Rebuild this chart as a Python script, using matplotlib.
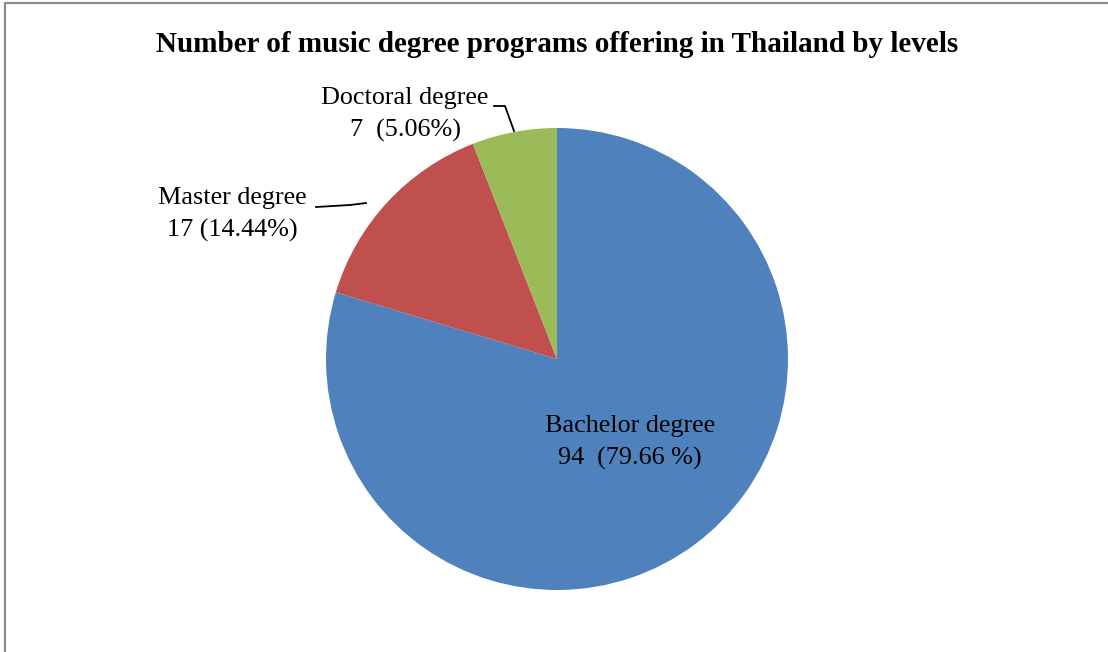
import matplotlib.pyplot as plt
from matplotlib.lines import Line2D

# programme counts per degree level
levels = ["Bachelor degree", "Master degree", "Doctoral degree"]
counts = [94, 17, 7]
pct_text = ["94  (79.66 %)", "17 (14.44%)", "7  (5.06%)"]
colors = ["#4F81BD", "#C0504D", "#9BBB59"]

W, H = 1108, 652
fig = plt.figure(figsize=(W / 100, H / 100), dpi=100)
ax = fig.add_axes([0, 0, 1, 1])

# pie drawn in pixel-like data units (y measured from the bottom)
cx, cy, r = 557, H - 359, 231
ax.pie(counts, colors=colors, startangle=90, counterclock=False,
       center=(cx, cy), radius=r, frame=True,
       wedgeprops=dict(linewidth=0))
ax.set_xlim(0, W)
ax.set_ylim(0, H)
ax.set_aspect("equal")
ax.axis("off")

serif = "Liberation Serif"
ax.text(557, H - 45, "Number of music degree programs offering in Thailand by levels",
        ha="center", va="center", fontsize=21, fontweight="bold", family=serif)

# label positions (x, y of first line)
label_pos = [(630, 426), (232, 198), (405, 98)]
for name, txt, (lx, ly) in zip(levels, pct_text, label_pos):
    ax.text(lx, H - ly, name, ha="center", va="center", fontsize=18.8, family=serif)
    ax.text(lx, H - ly - 32, txt, ha="center", va="center", fontsize=18.8, family=serif)

# leader lines
ax.plot([316, 350, 366], [H - 207, H - 205, H - 203], color="black", lw=1.3)
ax.plot([494, 505, 514], [H - 106, H - 106, H - 131], color="black", lw=1.3)

# chart area border (left and top edges)
fig.add_artist(Line2D([5 / W, 5 / W, 1.0], [0.0, 1 - 3 / H, 1 - 3 / H],
                      transform=fig.transFigure, color="#8c8c8c", lw=1.6))

fig.savefig("out.png", dpi=100)
